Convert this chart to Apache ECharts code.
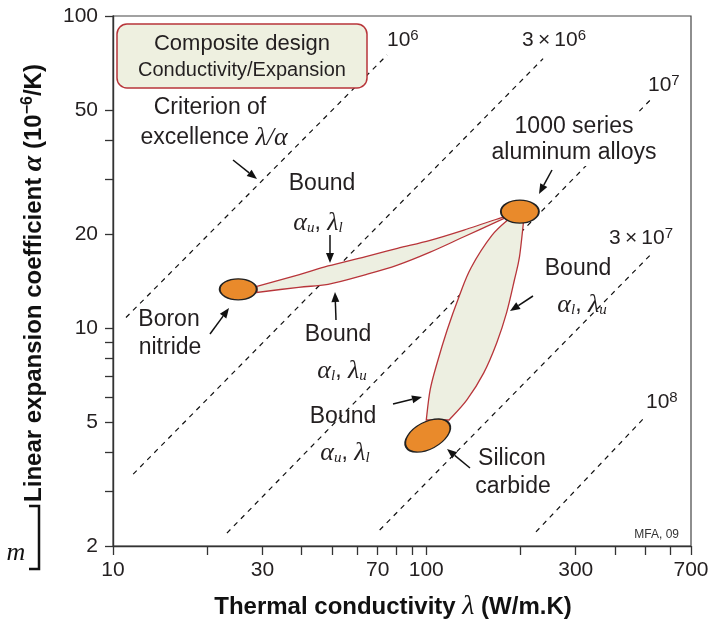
<!DOCTYPE html>
<html><head><meta charset="utf-8">
<script src="https://cdn.jsdelivr.net/npm/echarts@6/dist/echarts.min.js"></script>
<style>html,body{margin:0;padding:0;background:#fff}#c{width:724px;height:623px}</style>
</head><body><div id="c"></div>
<script>
// ---------- data ----------
const xTickValues = [10,20,30,40,50,60,70,80,90,100,200,300,400,500,600,700];
const xLabelValues = [10,30,70,100,300,700];
const yTickValues = [2,3,4,5,6,7,8,9,10,20,30,40,50,100];
const yLabelValues = [2,5,10,20,50,100];

// guide lines of constant lambda/alpha (endpoints)
const isoNames  = ['10^6','3x10^6','10^7','3x10^7','10^8'];
const isoLambda = [[11.0,75],[11.6,236],[23.1,519],[71.0,527],[224,500]];
const isoAlpha  = [[10.8,75],[3.4,73],[2.2,53.8],[2.25,17.4],[2.22,5.19]];

// materials (ellipse centres)
const materialNames  = ['Boron nitride','1000 series aluminum alloys','Silicon carbide'];
const materialLambda = [25.1,199,101.1];
const materialAlpha  = [13.3,23.6,4.52];

// composite bound envelopes
const lensAUpperLambda = [28.8,39.1,48.6,63.7,80.9,102.9,131.9,176.6];
const lensAUpperAlpha  = [13.6,14.8,15.8,16.9,18.0,19.1,20.6,22.7];
const lensALowerLambda = [28.8,39.1,48.6,63.7,80.9,102.9,131.9,176.6];
const lensALowerAlpha  = [13.0,13.5,13.8,14.8,15.9,17.5,19.6,22.4];
const lensBLeftLambda  = [184.0,162.0,139.0,127.2,116.6,108.3,102.9,100];
const lensBLeftAlpha   = [22.4,19.8,15.6,12.6,9.85,7.72,6.33,5.07];
const lensBRightLambda = [204.2,198.4,191.3,180.5,167.8,152.6,134.8,118.3];
const lensBRightAlpha  = [21.7,16.9,14.3,11.2,8.95,7.18,5.88,5.07];

// ---------- helpers ----------
const SANS = '"Liberation Sans", Arial, sans-serif';
const SERIF = '"Liberation Serif", "Times New Roman", serif';
const INK = '#231F20';

// Catmull-Rom curve through pixel points, as SVG path commands
function crPath(p, start) {
  let d = (start ? 'M' : 'L') + p[0][0] + ' ' + p[0][1];
  for (let i = 0; i < p.length - 1; i++) {
    const p0 = p[i-1] || p[i], p1 = p[i], p2 = p[i+1], p3 = p[i+2] || p[i+1];
    const c1 = [p1[0] + (p2[0]-p0[0])/6, p1[1] + (p2[1]-p0[1])/6];
    const c2 = [p2[0] - (p3[0]-p1[0])/6, p2[1] - (p3[1]-p1[1])/6];
    d += ' C' + c1[0] + ' ' + c1[1] + ' ' + c2[0] + ' ' + c2[1] + ' ' + p2[0] + ' ' + p2[1];
  }
  return d;
}
function lensSeries(lamA, alpA, lamB, alpB) {
  const a = lamA.map((l,i)=>[l, alpA[i]]);
  const b = lamB.map((l,i)=>[l, alpB[i]]).reverse();
  return {
    type:'custom', coordinateSystem:'cartesian2d', silent:true, z:3, data: a.concat(b),
    renderItem:(params, api)=> {
      if (params.dataIndex !== 0) return null;
      const pa = a.map(p=>api.coord(p)), pb = b.map(p=>api.coord(p));
      return {type:'path', shape:{pathData: crPath(pa, true) + ' ' + crPath(pb, false) + ' Z'},
        style:{fill:'#EDEFE1', stroke:'#B8353A', lineWidth:1.3}};
    }
  };
}

function txt(x, y, text, opt) {
  return {type:'text', x, y, z:20, style:Object.assign({
    text, fill:INK, font:'23px ' + SANS, textAlign:'center', align:'center',
    textVerticalAlign:'middle', verticalAlign:'middle'}, opt || {})};
}
function arrow(x1,y1,x2,y2){
  const dx=x2-x1, dy=y2-y1, L=Math.hypot(dx,dy), ux=dx/L, uy=dy/L;
  const hl=10, hw=4, bx=x2-ux*hl, by=y2-uy*hl;
  return [
    {type:'line', z:20, shape:{x1,y1,x2:bx,y2:by}, style:{stroke:'#111', lineWidth:1.5}},
    {type:'polygon', z:20, shape:{points:[[x2,y2],[bx-uy*hw,by+ux*hw],[bx+uy*hw,by-ux*hw]]}, style:{fill:'#111'}}
  ];
}
const greekRich = {
  g:{fontFamily:SERIF, fontStyle:'italic', fontSize:26, lineHeight:26, fill:INK},
  sb:{fontFamily:SERIF, fontStyle:'italic', fontSize:15, lineHeight:12, verticalAlign:'bottom', fill:INK},
  t:{fontFamily:SANS, fontSize:23, lineHeight:26, fill:INK}
};
function bounds(x, y, a, b) {
  return txt(x, y, '{g|α}{sb|'+a+'}{t|, }{g|λ}{sb|'+b+'}', {rich:greekRich});
}
const supRich = {
  b:{fontFamily:SANS, fontSize:21, lineHeight:24, fill:INK},
  s:{fontFamily:SANS, fontSize:15, lineHeight:11, verticalAlign:'top', fill:INK}
};
function sup(x, y, base, s) {
  return txt(x, y, '{b|'+base+'}{s|'+s+'}', {rich:supRich, textAlign:'left', align:'left'});
}

// ---------- chart ----------
const chart = echarts.init(document.getElementById('c'), null, {renderer:'canvas'});

const series = [];
isoLambda.forEach((lam, i) => {
  series.push({
    name: isoNames[i], type:'line', silent:true, z:2, symbol:'none',
    data: lam.map((l,j)=>[l, isoAlpha[i][j]]),
    lineStyle:{color:'#111', width:1.2, type:[5,5]}
  });
});
series.push(lensSeries(lensAUpperLambda, lensAUpperAlpha, lensALowerLambda, lensALowerAlpha));
series.push(lensSeries(lensBLeftLambda, lensBLeftAlpha, lensBRightLambda, lensBRightAlpha));
const ellSize = [[37,21],[38,23],[49,27]];
const ellRot = [0,0,28];
series.push({
  type:'scatter', z:5, silent:true, symbol:'circle',
  data: materialLambda.map((l,i)=>({name:materialNames[i], value:[l, materialAlpha[i]], symbolSize:ellSize[i], symbolRotate:ellRot[i]})),
  itemStyle:{color:'#E98A2B', borderColor:'#222', borderWidth:1.5, opacity:1}
});

const graphics = [
  {type:'rect', z:15, shape:{x:117, y:24, width:250, height:64, r:10},
   style:{fill:'#EEF0E0', stroke:'#B8353A', lineWidth:1.5}},
  txt(242, 44, 'Composite design', {font:'22px ' + SANS}),
  txt(242, 70, 'Conductivity/Expansion', {font:'20px ' + SANS}),

  txt(210, 108, 'Criterion of'),
  txt(214, 138, '{t|excellence }{g|λ/α}', {rich:greekRich}),

  sup(387, 40, '10', '6'),
  sup(522, 40, '3\u2009×\u200910', '6'),
  sup(648, 85, '10', '7'),
  sup(609, 238, '3\u2009×\u200910', '7'),
  sup(646, 402, '10', '8'),

  txt(574, 140, '1000 series\naluminum alloys', {lineHeight:26, backgroundColor:'#fff', padding:[0,3]}),

  txt(322, 184, 'Bound'),
  bounds(318, 223, 'u', 'l'),
  txt(338, 335, 'Bound'),
  bounds(342, 371, 'l', 'u'),
  txt(343, 417, 'Bound'),
  bounds(345, 453, 'u', 'l'),
  txt(578, 269, 'Bound'),
  bounds(582, 305, 'l', 'u'),

  txt(169, 320, 'Boron'),
  txt(170, 348, 'nitride'),
  txt(512, 459, 'Silicon'),
  txt(513, 487, 'carbide'),

  txt(679, 535, 'MFA, 09', {font:'12px ' + SANS, textAlign:'right', align:'right', fill:'#333'}),

  txt(393, 607, '{b|Thermal conductivity }{g|λ}{b| (W/m.K)}', {rich:{
    b:{fontFamily:SANS, fontWeight:'bold', fontSize:24, lineHeight:28, fill:'#111'},
    g:{fontFamily:SERIF, fontStyle:'italic', fontSize:28, lineHeight:28, fill:'#111'}}}),
  Object.assign(txt(34, 283, '{b|Linear expansion coefficient }{g|α}{b| (10}{s|−6}{b|/K)}', {rich:{
    b:{fontFamily:SANS, fontWeight:'bold', fontSize:24, lineHeight:28, fill:'#111'},
    g:{fontFamily:SERIF, fontStyle:'italic', fontWeight:'bold', fontSize:28, lineHeight:28, fill:'#111'},
    s:{fontFamily:SANS, fontWeight:'bold', fontSize:16, lineHeight:14, verticalAlign:'top', fill:'#111'}}}), {rotation:Math.PI/2}),

  txt(16, 553, 'm', {font:'italic 26px ' + SERIF, fill:'#111'}),
  {type:'polyline', z:20, shape:{points:[[29,506],[39,506],[39,569],[29,569]]}, style:{stroke:'#111', lineWidth:2.5, fill:null}}
];
[[233,160,257,179],[552,170,539,194],[330,235,330,263],[336,320,335,292],
 [210,334,229,308],[533,296,510,311],[393,404,422,397],[470,468,447,449]]
  .forEach(a => graphics.push(...arrow(...a)));

chart.setOption({
  animation:false,
  backgroundColor:'#fff',
  grid:{left:113, top:16, width:578, height:530, show:true, borderColor:'#444', borderWidth:1.2, containLabel:false},
  xAxis:{
    type:'log', logBase:10, min:10, max:700,
    axisLine:{show:true, lineStyle:{color:'#333', width:1.4}},
    axisTick:{show:true, inside:false, length:9, customValues:xTickValues, lineStyle:{color:'#333', width:1.3}},
    axisLabel:{customValues:xLabelValues, margin:14, fontSize:21, fontFamily:SANS, color:INK},
    splitLine:{show:false}, minorTick:{show:false}
  },
  yAxis:{
    type:'log', logBase:10, min:2, max:100,
    axisLine:{show:true, lineStyle:{color:'#333', width:1.4}},
    axisTick:{show:true, inside:false, length:8, customValues:yTickValues, lineStyle:{color:'#333', width:1.3}},
    axisLabel:{customValues:yLabelValues, margin:15, fontSize:21, fontFamily:SANS, color:INK},
    splitLine:{show:false}, minorTick:{show:false}
  },
  series,
  graphic:{elements:graphics}
});
</script></body></html>
